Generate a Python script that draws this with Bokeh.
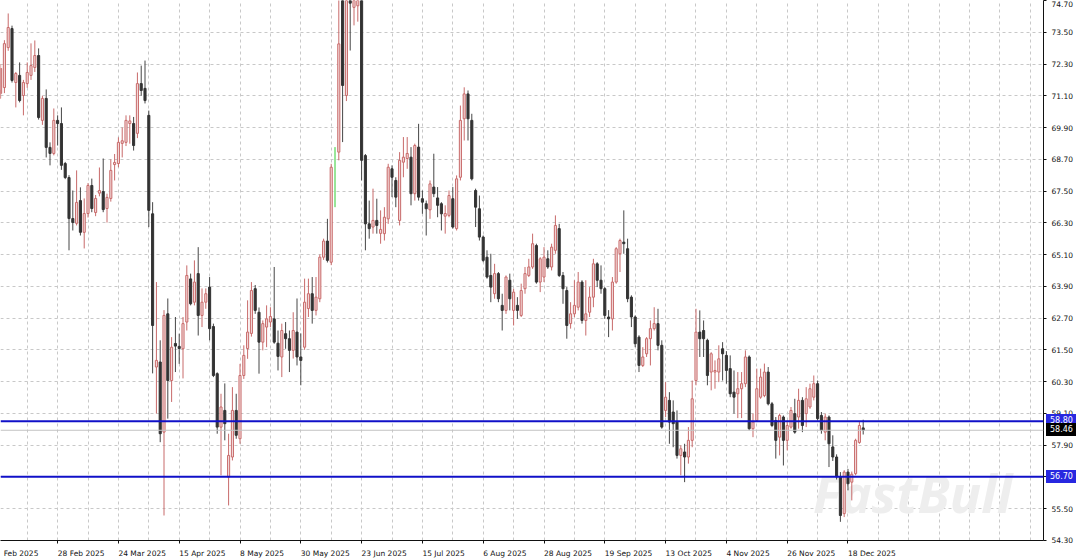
from bokeh.plotting import figure
from bokeh.models import FixedTicker, Span, Label, ColumnDataSource, NumeralTickFormatter, Range1d, Div
from bokeh.embed import file_html
from bokeh.resources import INLINE

# ---- data (daily candles, bar index 0 = 6 Feb 2025) ----
opens = [
    71.00, 71.19, 71.41, 72.92, 73.64, 71.60, 71.87, 71.11, 71.56, 71.87,
    72.17, 72.62, 70.17, 71.00, 69.15, 68.92, 70.17, 70.05, 68.54, 68.01,
    66.46, 66.28, 67.14, 65.94, 66.65, 67.71, 66.69, 67.42, 67.48, 66.84,
    67.22, 68.50, 68.54, 69.30, 69.34, 70.05, 70.05, 69.68, 71.56, 71.38,
    70.36, 66.64, 60.85, 61.04, 58.39, 62.86, 60.34, 61.74, 61.63, 61.54,
    62.55, 64.18, 63.30, 64.38, 62.80, 63.30, 63.87, 62.38, 60.60, 58.58,
    59.21, 56.69, 57.45, 59.21, 58.14, 60.53, 61.55, 62.12, 63.81, 62.92,
    61.79, 62.36, 62.55, 62.67, 61.75, 61.23, 62.11, 61.92, 61.48, 62.17,
    61.23, 61.60, 63.06, 63.62, 62.99, 63.43, 65.00, 65.61, 64.81, 68.00,
    68.97, 74.80, 71.11, 75.00, 74.44, 74.50, 75.00, 68.84, 66.26, 66.14,
    66.39, 65.90, 65.89, 66.45, 68.34, 67.90, 66.39, 68.59, 68.73, 68.78,
    67.40, 69.16, 67.21, 67.02, 66.79, 67.65, 67.24, 67.02, 66.55, 66.58,
    67.21, 66.08, 68.02, 70.23, 71.17, 70.17, 67.52, 66.83, 65.76, 65.00,
    64.31, 63.62, 64.38, 63.18, 62.99, 64.13, 62.99, 63.18, 62.80, 63.81,
    64.31, 64.63, 65.44, 64.06, 64.25, 64.94, 64.63, 65.26, 66.08, 64.31,
    63.74, 62.49, 62.86, 63.11, 64.06, 62.61, 62.92, 63.49, 64.75, 64.13,
    63.81, 62.74, 62.67, 64.06, 65.13, 65.57, 65.32, 63.49, 62.74, 61.98,
    60.91, 61.35, 61.92, 62.30, 62.49, 61.67, 59.21, 59.59, 59.15, 58.77,
    57.51, 57.64, 57.45, 58.08, 60.34, 62.17, 62.23, 61.86, 60.66, 60.66,
    60.66, 61.54, 61.29, 60.79, 59.90, 59.84, 60.03, 60.22, 61.23, 58.52,
    58.83, 59.71, 59.77, 60.66, 59.46, 58.83, 58.20, 58.96, 58.08, 58.58,
    59.09, 58.96, 59.59, 59.09, 59.34, 59.71, 60.22, 59.02, 58.39, 58.96,
    57.83, 57.45, 56.70, 55.31, 56.88, 56.50, 56.82, 58.00, 58.55,
]
highs = [
    71.60, 72.30, 73.20, 74.21, 73.75, 72.00, 72.36, 71.70, 72.36, 73.08,
    73.19, 72.89, 71.10, 71.34, 69.34, 70.62, 70.36, 70.66, 68.60, 68.10,
    67.52, 68.28, 67.64, 67.22, 67.80, 67.97, 67.35, 68.39, 68.73, 67.40,
    68.70, 68.90, 69.53, 69.90, 70.36, 70.36, 70.30, 71.98, 72.24, 72.43,
    70.54, 67.08, 64.06, 61.86, 63.00, 63.44, 61.98, 62.74, 62.11, 62.74,
    64.69, 64.38, 64.88, 65.38, 63.82, 63.82, 64.25, 62.49, 60.65, 59.84,
    60.23, 58.33, 60.09, 59.84, 60.97, 61.67, 63.37, 64.06, 63.95, 63.10,
    62.61, 63.18, 63.11, 64.63, 62.23, 62.49, 62.55, 62.23, 62.92, 63.44,
    62.12, 64.19, 64.19, 64.25, 64.25, 65.10, 65.70, 66.45, 68.53, 69.16,
    77.00, 75.40, 75.50, 75.60, 75.80, 76.20, 78.40, 68.90, 67.14, 67.59,
    67.21, 66.77, 66.89, 68.53, 68.47, 68.02, 68.97, 69.54, 69.54, 69.16,
    69.29, 70.04, 67.52, 67.14, 67.90, 68.91, 67.65, 67.08, 66.96, 67.52,
    67.65, 68.09, 70.73, 71.42, 71.30, 70.42, 67.59, 67.33, 65.82, 65.26,
    65.13, 64.75, 64.44, 63.62, 64.31, 64.38, 63.81, 63.49, 64.00, 64.63,
    64.94, 65.89, 65.51, 65.00, 65.38, 65.26, 65.51, 66.58, 66.26, 64.44,
    63.87, 63.30, 64.13, 64.44, 64.13, 64.13, 63.87, 64.94, 64.81, 64.69,
    63.87, 63.00, 64.25, 65.38, 65.70, 66.77, 65.70, 63.56, 62.80, 62.05,
    61.60, 61.98, 62.61, 63.11, 63.05, 61.86, 60.28, 59.90, 59.59, 59.21,
    57.89, 57.95, 58.58, 60.34, 63.05, 62.99, 62.61, 61.92, 61.41, 61.10,
    61.67, 61.79, 61.45, 61.29, 60.72, 60.66, 60.66, 61.48, 61.29, 59.09,
    60.79, 60.79, 60.98, 60.85, 59.53, 58.96, 59.09, 59.02, 58.83, 59.34,
    59.65, 60.03, 59.71, 60.09, 60.22, 60.53, 60.34, 59.15, 59.09, 59.02,
    58.27, 57.55, 56.88, 56.95, 57.00, 56.90, 58.14, 58.77, 58.86,
]
lows = [
    70.80, 71.00, 71.20, 72.80, 71.60, 70.66, 70.85, 70.36, 71.40, 71.70,
    72.00, 70.20, 70.00, 68.77, 68.47, 68.85, 69.22, 68.30, 67.95, 65.26,
    66.01, 66.20, 65.82, 65.33, 66.50, 66.70, 66.55, 67.30, 66.70, 66.31,
    67.10, 67.90, 68.40, 68.77, 69.20, 69.29, 69.03, 69.50, 71.10, 70.81,
    66.14, 60.61, 59.09, 58.01, 55.24, 58.90, 59.53, 60.66, 60.97, 60.42,
    62.23, 63.18, 63.18, 62.04, 62.36, 63.05, 61.86, 60.47, 58.33, 56.76,
    58.08, 55.62, 57.32, 58.14, 57.95, 60.40, 61.16, 62.00, 62.86, 60.60,
    61.48, 61.60, 62.36, 61.73, 60.72, 60.47, 61.54, 60.66, 61.17, 60.91,
    60.16, 61.50, 62.74, 62.49, 62.80, 63.30, 64.90, 64.80, 64.70, 66.89,
    68.66, 69.35, 70.90, 72.81, 73.76, 73.90, 67.90, 65.26, 65.70, 65.89,
    65.89, 65.51, 65.63, 66.26, 67.27, 66.89, 66.20, 68.02, 68.34, 66.96,
    67.14, 67.14, 66.64, 65.82, 66.45, 67.27, 66.51, 66.01, 65.89, 66.51,
    66.08, 66.01, 67.90, 69.41, 69.41, 67.90, 66.14, 65.63, 64.81, 64.19,
    63.30, 63.43, 63.30, 62.23, 62.86, 62.99, 62.42, 62.67, 62.74, 63.62,
    64.25, 64.56, 64.00, 63.68, 64.06, 64.56, 64.50, 65.13, 64.25, 63.24,
    61.92, 62.30, 62.74, 62.99, 62.49, 62.04, 62.74, 63.11, 63.87, 63.62,
    62.67, 61.98, 62.23, 64.00, 64.44, 65.13, 63.30, 62.36, 61.60, 60.66,
    60.85, 61.23, 60.91, 62.23, 61.48, 58.52, 58.96, 57.95, 57.82, 57.39,
    56.76, 56.50, 57.20, 57.82, 60.16, 61.23, 61.23, 60.16, 59.97, 60.03,
    60.28, 60.34, 60.22, 59.71, 59.09, 58.92, 58.92, 60.09, 58.46, 58.20,
    58.77, 59.65, 59.71, 59.40, 58.58, 57.39, 57.51, 57.13, 57.70, 58.52,
    58.33, 58.52, 58.39, 58.58, 59.27, 59.59, 58.83, 58.33, 58.08, 57.07,
    57.30, 56.60, 55.00, 55.18, 56.19, 55.81, 56.76, 57.95, 58.30,
]
closes = [
    71.30, 72.13, 73.07, 73.68, 71.68, 71.94, 70.92, 71.60, 71.98, 72.24,
    72.62, 70.28, 71.00, 69.15, 68.92, 70.17, 70.05, 68.47, 68.01, 66.46,
    66.31, 67.07, 65.94, 66.65, 67.71, 66.84, 67.22, 67.52, 66.80, 67.26,
    68.28, 68.58, 69.34, 69.40, 70.17, 70.15, 69.22, 71.56, 71.30, 70.92,
    66.77, 62.42, 61.10, 58.33, 62.80, 60.34, 61.60, 61.64, 61.55, 62.49,
    64.31, 63.24, 64.06, 62.80, 63.30, 63.62, 62.30, 60.53, 58.58, 59.34,
    58.71, 57.51, 59.21, 58.27, 60.53, 61.29, 62.17, 63.74, 62.99, 61.79,
    62.49, 62.67, 62.76, 61.79, 61.25, 62.23, 61.92, 61.48, 62.23, 61.23,
    61.10, 63.30, 63.62, 62.99, 63.49, 65.00, 65.61, 64.88, 68.40, 68.00,
    73.06, 71.49, 74.90, 74.60, 75.20, 75.30, 68.66, 66.26, 66.08, 66.39,
    66.20, 66.05, 66.51, 68.40, 68.02, 67.27, 68.66, 68.78, 68.92, 67.40,
    69.22, 67.27, 67.08, 66.83, 67.77, 67.40, 66.96, 66.64, 66.65, 67.33,
    66.14, 67.96, 70.17, 71.17, 70.23, 67.96, 66.89, 65.76, 64.88, 64.25,
    63.87, 64.38, 63.43, 62.99, 64.25, 63.43, 63.68, 62.99, 63.74, 64.38,
    64.63, 65.51, 64.06, 64.94, 65.00, 64.63, 65.38, 66.20, 64.31, 63.81,
    62.42, 62.86, 63.18, 64.06, 62.61, 62.86, 63.49, 64.75, 64.13, 63.81,
    62.80, 62.67, 64.06, 65.32, 65.63, 65.51, 63.43, 62.74, 61.73, 60.91,
    61.23, 61.92, 62.30, 62.49, 61.67, 58.58, 59.71, 58.77, 58.71, 57.51,
    57.76, 57.45, 58.08, 59.65, 62.17, 61.92, 61.92, 60.53, 61.35, 60.72,
    61.16, 61.35, 60.72, 59.84, 59.71, 60.03, 60.22, 61.23, 58.52, 58.77,
    60.03, 60.47, 60.66, 59.46, 58.64, 58.08, 59.02, 58.08, 58.64, 59.21,
    58.39, 59.59, 58.64, 59.65, 60.03, 60.22, 58.90, 58.46, 58.96, 57.95,
    57.45, 56.70, 55.24, 56.88, 56.44, 56.80, 58.08, 58.64, 58.46,
]

tick_positions = [1.75, 16, 32, 48, 64, 80, 96, 112, 128, 144, 160, 176, 192, 208, 224]
tick_labels = ["Feb 2025", "28 Feb 2025", "24 Mar 2025", "15 Apr 2025", "8 May 2025",
               "30 May 2025", "23 Jun 2025", "15 Jul 2025", "6 Aug 2025", "28 Aug 2025",
               "19 Sep 2025", "13 Oct 2025", "4 Nov 2025", "26 Nov 2025", "18 Dec 2025"]
grid_positions = list(range(8, 280, 8))
price_ticks = [54.30, 55.50, 56.70, 57.90, 59.10, 60.30, 61.50, 62.70, 63.90, 65.10,
               66.30, 67.50, 68.70, 69.90, 71.10, 72.30, 73.50, 74.70]
level_high = 58.80
level_low = 56.70
last_price = 58.46

# ---- layout / style ----
FRAME_W, FRAME_H = 1043, 540
X_START, X_END = 0.97, 275.45
Y_START, Y_END = 54.295, 74.70
FONT = "DejaVu Sans"
FONT_PX = 7.5
BULL_LINE = "#c86a6a"
BULL_FILL = "#f4dcdc"
BEAR = "#333333"
BEAR_WICK = "#464646"
DOJI = "#33cc33"
GRID = "#c8c8c8"
LEVEL = "#1010c8"
TAG_BLUE = "#2828e0"

# approximate DejaVu Sans advance widths (em) to left-align date labels at their bar
EM = {" ": 0.318, "F": 0.575, "e": 0.615, "b": 0.635, "M": 0.863, "a": 0.613, "r": 0.411,
      "A": 0.684, "p": 0.635, "y": 0.592, "J": 0.295, "u": 0.634, "n": 0.634, "l": 0.278,
      "g": 0.635, "S": 0.635, "O": 0.787, "c": 0.550, "t": 0.392, "N": 0.748, "o": 0.612,
      "v": 0.592, "D": 0.770}
px_per_bar = FRAME_W / (X_END - X_START)


def text_w(s):
    return sum(EM.get(ch, 0.636) for ch in s) * FONT_PX


label_pos = [round(pos + text_w(lab) / 2 / px_per_bar, 3) for pos, lab in zip(tick_positions, tick_labels)]

idx = list(range(len(opens)))
bull = [i for i in idx if closes[i] > opens[i]]
bear = [i for i in idx if closes[i] < opens[i]]
doji = [i for i in idx if closes[i] == opens[i]]


def src(ids):
    return ColumnDataSource(dict(
        x=ids,
        o=[opens[i] for i in ids],
        h=[highs[i] for i in ids],
        l=[lows[i] for i in ids],
        c=[closes[i] for i in ids],
    ))


s_bull, s_bear, s_doji = src(bull), src(bear), src(doji)

p = figure(frame_width=FRAME_W, frame_height=FRAME_H,
           x_range=Range1d(X_START, X_END), y_range=Range1d(Y_START, Y_END),
           output_backend="svg", toolbar_location=None, y_axis_location="right",
           min_border_left=0, min_border_top=0, min_border_right=37, min_border_bottom=20,
           background_fill_color="white", border_fill_color="white")
p.outline_line_color = None

# grids
p.xgrid.ticker = FixedTicker(ticks=grid_positions)
p.xgrid.grid_line_color = GRID
p.xgrid.grid_line_dash = "3 3"
p.ygrid.grid_line_color = GRID
p.ygrid.grid_line_dash = "3 3"

# x axis: labels start at their bar (like the terminal), small tick at the bar
xa = p.xaxis[0]
xa.ticker = FixedTicker(ticks=label_pos, minor_ticks=[t for t in tick_positions[1:]])
xa.major_label_overrides = {pos: lab for pos, lab in zip(label_pos, tick_labels)}
xa.major_label_text_font = FONT
xa.major_label_text_font_size = f"{FONT_PX}px"
xa.major_label_text_color = "#111111"
xa.major_label_standoff = 2
xa.major_tick_line_color = None
xa.minor_tick_out = 3
xa.minor_tick_in = 0
xa.minor_tick_line_color = "#111111"
xa.axis_line_color = "#111111"

ya = p.yaxis[0]
ya.ticker = FixedTicker(ticks=price_ticks)
ya.formatter = NumeralTickFormatter(format="0.00")
ya.major_label_text_font = FONT
ya.major_label_text_font_size = f"{FONT_PX}px"
ya.major_label_text_color = "#111111"
ya.major_label_standoff = 5
ya.major_tick_out = 3
ya.major_tick_in = 0
ya.minor_tick_line_color = None
ya.axis_line_color = "#111111"
ya.major_tick_line_color = "#111111"

# watermark
p.add_layout(Label(x=241.0, y=56.1, text="FastBull", text_font="Open Sans",
                   text_font_style="bold italic", text_font_size="52px",
                   text_color="#eeeeee", text_align="center", text_baseline="middle",
                   level="underlay"))

# current price line and levels
p.add_layout(Span(location=last_price, dimension="width", line_color="#c4c4c4", line_width=1))
p.add_layout(Span(location=level_high, dimension="width", line_color=LEVEL, line_width=2))
p.add_layout(Span(location=level_low, dimension="width", line_color=LEVEL, line_width=2))

# candles
p.segment(x0="x", y0="l", x1="x", y1="h", source=s_bull, line_color=BULL_LINE, line_width=1)
p.vbar(x="x", bottom="o", top="c", width=0.55, source=s_bull,
       fill_color=BULL_FILL, line_color=BULL_LINE, line_width=1)
p.segment(x0="x", y0="l", x1="x", y1="h", source=s_bear, line_color=BEAR_WICK, line_width=1)
p.vbar(x="x", bottom="c", top="o", width=0.55, source=s_bear,
       fill_color=BEAR, line_color=BEAR, line_width=1)
p.segment(x0="x", y0="l", x1="x", y1="h", source=s_doji, line_color=DOJI, line_width=1)


# price tags over the right scale (positioned from the same price scale)
def tag(val, bg):
    top = (Y_END - val) * FRAME_H / (Y_END - Y_START) - 6.5
    return Div(text=f"{val:.2f}", width=30, height=13, styles={
        "position": "absolute", "left": f"{FRAME_W + 3}px", "top": f"{top:.1f}px",
        "background-color": bg, "color": "white", "font-family": FONT,
        "font-size": f"{FONT_PX + 0.5}px", "line-height": "13px", "padding-left": "4px",
        "box-sizing": "border-box", "z-index": "10", "margin": "0"})


tags = [tag(level_high, TAG_BLUE), tag(last_price, "#000000"), tag(level_low, TAG_BLUE)]

open("out.html", "w").write(file_html([p] + tags, INLINE))
